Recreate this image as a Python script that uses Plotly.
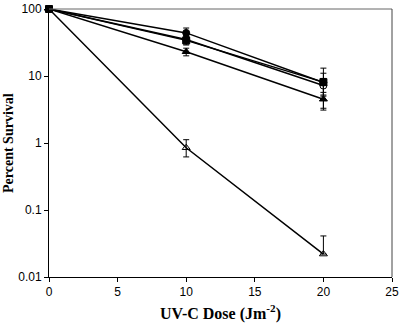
import plotly.graph_objects as go

dose = [0, 10, 20]
filled_circle = [100, 44, 8.0]
filled_circle_err = [0, 8, 3]
filled_square = [100, 34, 8.1]
filled_square_err = [0, 5, 5]
open_circle = [100, 35, 7.2]
open_circle_err = [0, 5, 2]
filled_triangle = [100, 23, 4.5]
filled_triangle_err = [0, 3, 1.2]
open_triangle = [100, 0.85, 0.022]
open_triangle_err_up = [0, 0.27, 0.019]
open_triangle_err_down = [0, 0.23, 0]

x_title = "<b>UV-C Dose (Jm<sup>-2</sup>)</b>"
y_title = "<b>Percent Survival</b>"

series = [
    (open_triangle, open_triangle_err_up, open_triangle_err_down, "triangle-up-open"),
    (filled_triangle, filled_triangle_err, filled_triangle_err, "triangle-up"),
    (open_circle, open_circle_err, open_circle_err, "circle-open"),
    (filled_square, filled_square_err, filled_square_err, "square"),
    (filled_circle, filled_circle_err, filled_circle_err, "circle"),
]

fig = go.Figure()
for ys, eu, ed, sym in series:
    fig.add_trace(go.Scatter(
        x=dose, y=ys, mode="lines+markers",
        line=dict(color="black", width=1.5),
        marker=dict(symbol=sym, size=7, color="black", line=dict(color="black", width=1)),
        error_y=dict(type="data", array=eu, arrayminus=ed, symmetric=False,
                     color="black", thickness=1, width=3),
        showlegend=False, cliponaxis=False,
    ))

tick_font = dict(family="Liberation Sans, Arial, sans-serif", size=12, color="black")
y_title_font = dict(family="Liberation Serif, Times New Roman, serif", size=14, color="black")
x_title_font = dict(family="Liberation Serif, Times New Roman, serif", size=16, color="black")

fig.update_layout(
    width=400, height=326,
    margin=dict(l=49, r=8, t=9, b=49, autoexpand=False),
    paper_bgcolor="white", plot_bgcolor="white",
    xaxis=dict(range=[0, 25], tickvals=[0, 5, 10, 15, 20, 25], ticks="outside", ticklen=4,
               tickcolor="black", showline=True, linecolor="black", linewidth=1,
               showgrid=False, zeroline=False, tickfont=tick_font, automargin=False),
    yaxis=dict(type="log", range=[-2, 2], tickvals=[0.01, 0.1, 1, 10, 100],
               ticktext=["0.01", "0.1", "1", "10", "100"], ticks="outside", ticklen=4,
               tickcolor="black", showline=True, linecolor="black", linewidth=1,
               showgrid=False, zeroline=False, tickfont=tick_font, automargin=False),
    annotations=[
        dict(text=x_title, xref="paper", yref="paper", x=0.5, y=0, yshift=-35,
             xanchor="center", yanchor="middle", showarrow=False, font=x_title_font),
        dict(text=y_title, xref="paper", yref="paper", x=0, y=0.5, xshift=-41,
             xanchor="center", yanchor="middle", textangle=-90, showarrow=False, font=y_title_font),
    ],
    shapes=[
        dict(type="line", xref="paper", yref="paper", x0=0, x1=1, y0=1, y1=1,
             line=dict(color="#666666", width=1)),
        dict(type="line", xref="paper", yref="paper", x0=1, x1=1, y0=0, y1=1,
             line=dict(color="#444444", width=1)),
    ],
)

fig.write_html("out.html", config={"displayModeBar": False},
               post_script="document.body.style.margin='0';")
